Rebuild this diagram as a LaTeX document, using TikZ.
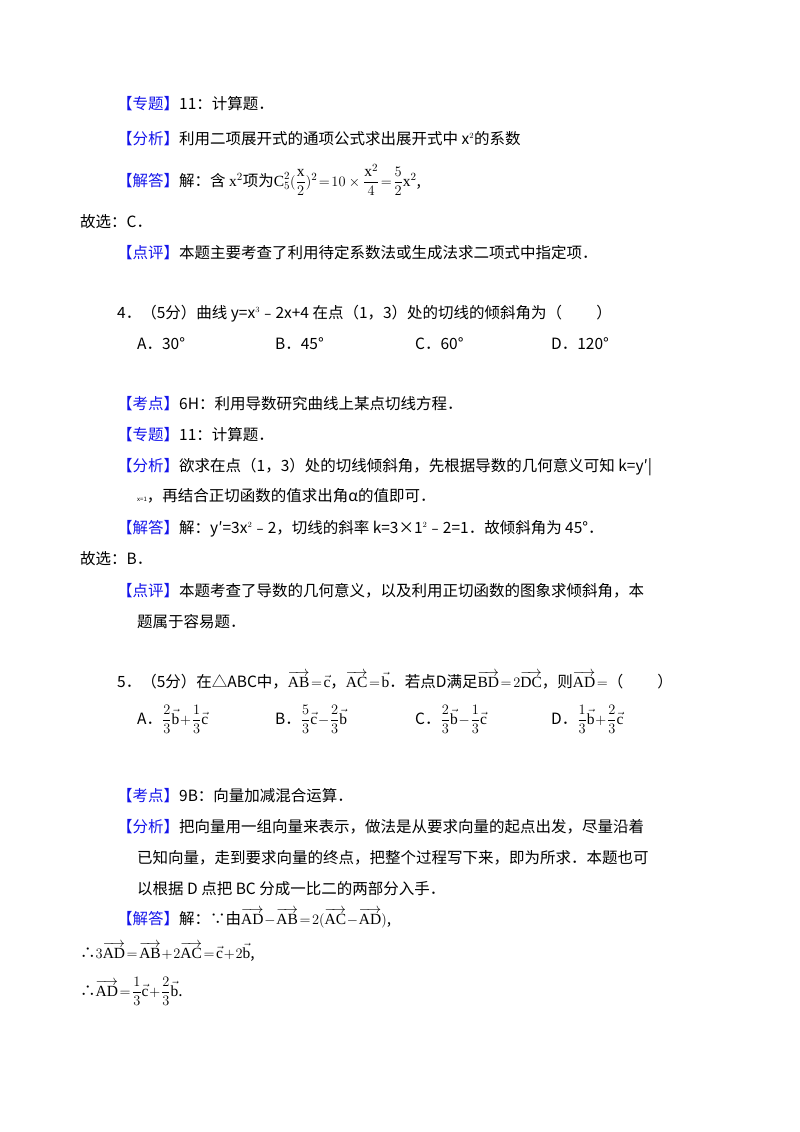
\documentclass[tikz,border=0pt]{standalone}
\usepackage{amsmath}
\usepackage{fontspec}
\setmainfont{Noto Sans CJK SC}
\newfontfamily\serif{Liberation Serif}
\definecolor{lbl}{RGB}{20,20,235}
\newcommand{\lb}[1]{\textcolor{lbl}{【#1】}}
\newcommand{\vv}[1]{\overrightarrow{\text{\serif #1}}}
\newcommand{\vs}[1]{\vec{\text{\serif #1}}}
\newcommand{\rs}[1]{\text{\serif #1}}
\begin{document}
\begin{tikzpicture}[x=1pt,y=-1pt,
  t/.style={anchor=base west,inner sep=0pt,font=\fontsize{15.5}{18}\selectfont}]
\useasboundingbox[fill=white] (0,0) rectangle (800,1132);
\node[t] (l1) at (117,109) {\lb{专题}11：计算题．};
\node[t] (l2) at (117,144) {\lb{分析}利用二项展开式的通项公式求出展开式中 x$^{\scriptscriptstyle 2}$的系数};
\node[t] (l3) at (117,186) {\lb{解答}解：含 $\rs{x}^2$项为$\rs{C}_5^2(\dfrac{\rs{x}}{2})^2\!=\!10\times\dfrac{\rs{x}^2}{4}\!=\!\dfrac{5}{2}\rs{x}^2$,};
\node[t] (l4) at (80,227) {故选：C．};
\node[t] (l5) at (117,258) {\lb{点评}本题主要考查了利用待定系数法或生成法求二项式中指定项．};
\node[t] (q4) at (117,318) {4．（5分）曲线 y=x$^{\scriptscriptstyle 3}$﹣2x+4 在点（1，3）处的切线的倾斜角为（\hspace{2.2em}）};
\node[t] (a4) at (137,349) {A．30°};
\node[t] (b4) at (275,349) {B．45°};
\node[t] (c4) at (415,349) {C．60°};
\node[t] (d4) at (551,349) {D．120°};
\node[t] (m1) at (117,409) {\lb{考点}6H：利用导数研究曲线上某点切线方程．};
\node[t] (m2) at (117,440) {\lb{专题}11：计算题．};
\node[t] (m3) at (117,471) {\lb{分析}欲求在点（1，3）处的切线倾斜角，先根据导数的几何意义可知 k=y′|};
\node[t] (m4) at (137,501) {{\fontsize{6}{7}\selectfont x=1}，再结合正切函数的值求出角α的值即可．};
\node[t] (m5) at (117,533) {\lb{解答}解：y′=3x$^{\scriptscriptstyle 2}$﹣2，切线的斜率 k=3×1$^{\scriptscriptstyle 2}$﹣2=1．故倾斜角为 45°．};
\node[t] (m6) at (80,564) {故选：B．};
\node[t] (m7) at (117,596) {\lb{点评}本题考查了导数的几何意义，以及利用正切函数的图象求倾斜角，本};
\node[t] (m8) at (137,627) {题属于容易题．};
\node[t] (q5) at (117,687) {5．（5分）在△ABC中，$\vv{AB}\!=\!\vs{c}$，$\vv{AC}\!=\!\vs{b}$．若点D满足$\vv{BD}\!=\!2\vv{DC}$，则$\vv{AD}\!=$（\hspace{2.2em}）};
\node[t] (a5) at (137,724) {A．$\dfrac{2}{3}\vs{b}\!+\!\dfrac{1}{3}\vs{c}$};
\node[t] (b5) at (275,724) {B．$\dfrac{5}{3}\vs{c}\!-\!\dfrac{2}{3}\vs{b}$};
\node[t] (c5) at (415,724) {C．$\dfrac{2}{3}\vs{b}\!-\!\dfrac{1}{3}\vs{c}$};
\node[t] (d5) at (551,724) {D．$\dfrac{1}{3}\vs{b}\!+\!\dfrac{2}{3}\vs{c}$};
\node[t] (n1) at (117,801) {\lb{考点}9B：向量加减混合运算．};
\node[t] (n2) at (117,832) {\lb{分析}把向量用一组向量来表示，做法是从要求向量的起点出发，尽量沿着};
\node[t] (n3) at (137,863) {已知向量，走到要求向量的终点，把整个过程写下来，即为所求．本题也可};
\node[t] (n4) at (137,894) {以根据 D 点把 BC 分成一比二的两部分入手．};
\node[t] (n5) at (117,924) {\lb{解答}解：∵由$\vv{AD}\!-\!\vv{AB}\!=\!2(\vv{AC}\!-\!\vv{AD})$,};
\node[t] (n6) at (80,958) {∴$3\vv{AD}\!=\!\vv{AB}\!+\!2\vv{AC}\!=\!\vs{c}\!+\!2\vs{b}$,};
\node[t] (n7) at (80,996) {∴$\vv{AD}\!=\!\dfrac{1}{3}\vs{c}\!+\!\dfrac{2}{3}\vs{b}$.};
\end{tikzpicture}
\end{document}
